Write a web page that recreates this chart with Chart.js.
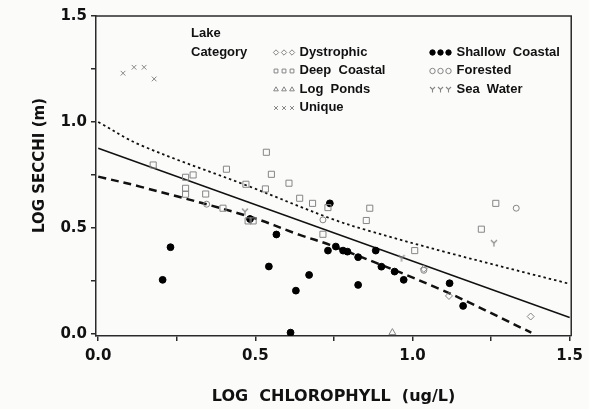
<!DOCTYPE html>
<html>
<head>
<meta charset="utf-8">
<script src="https://cdn.jsdelivr.net/npm/chart.js@4.4.1/dist/chart.umd.min.js"></script>
<style>
  html, body { margin: 0; padding: 0; background: #fbfcfa; }
  canvas { display: block; }
</style>
</head>
<body>
<canvas id="c" width="589" height="409"></canvas>
<script>
// ---------- data ----------
const xTitle = 'LOG  CHLOROPHYLL  (ug/L)';
const yTitle = 'LOG SECCHI (m)';
const xTickValues = [0, 0.25, 0.5, 0.75, 1.0, 1.25, 1.5];
const yTickValues = [0, 0.25, 0.5, 0.75, 1.0, 1.25, 1.5];
const legendTitle = ['Lake', 'Category'];

const dystrophicX = [1.036, 1.116, 1.376];
const dystrophicY = [0.307, 0.179, 0.082];

const deepCoastalX = [0.175, 0.278, 0.302, 0.408, 0.278, 0.278, 0.342, 0.397, 0.470, 0.535, 0.551, 0.532, 0.607, 0.641, 0.682, 0.731, 0.715, 0.477, 0.493, 0.864, 0.853, 1.007, 1.219, 1.265];
const deepCoastalY = [0.797, 0.739, 0.750, 0.777, 0.687, 0.659, 0.660, 0.593, 0.706, 0.857, 0.753, 0.684, 0.711, 0.640, 0.616, 0.596, 0.470, 0.533, 0.533, 0.593, 0.535, 0.393, 0.494, 0.616];

const logPondsX = [0.936];
const logPondsY = [0.006];

const uniqueX = [0.079, 0.114, 0.146, 0.178];
const uniqueY = [1.230, 1.258, 1.258, 1.203];

const shallowCoastalX = [0.205, 0.230, 0.483, 0.543, 0.567, 0.612, 0.629, 0.671, 0.737, 0.731, 0.756, 0.779, 0.793, 0.827, 0.827, 0.883, 0.901, 0.943, 0.972, 1.118, 1.161];
const shallowCoastalY = [0.255, 0.409, 0.542, 0.318, 0.469, 0.006, 0.204, 0.278, 0.616, 0.393, 0.412, 0.393, 0.388, 0.362, 0.231, 0.393, 0.317, 0.294, 0.255, 0.239, 0.132];

const forestedX = [0.345, 0.715, 1.330, 1.036];
const forestedY = [0.612, 0.538, 0.593, 0.300];

const seaWaterX = [0.467, 0.965, 1.259];
const seaWaterY = [0.577, 0.357, 0.428];

// fitted line and the two bands
const fitX = [0.0, 1.5];
const fitY = [0.876, 0.077];
const upperX = [0.0, 0.133, 0.482, 0.737, 0.853, 1.118, 1.5];
const upperY = [1.000, 0.892, 0.695, 0.546, 0.490, 0.381, 0.236];
const lowerX = [0.0, 0.133, 0.482, 0.641, 0.737, 1.086, 1.378];
const lowerY = [0.742, 0.695, 0.553, 0.467, 0.420, 0.212, 0.006];

// ---------- helpers ----------
const pts = (xs, ys) => xs.map((x, i) => ({ x: x, y: ys[i] }));
function makeY(size, lw) {
  const c = document.createElement('canvas');
  c.width = size; c.height = size;
  const g = c.getContext('2d');
  g.strokeStyle = '#858585'; g.lineWidth = lw;
  const m = size / 2;
  g.beginPath();
  g.moveTo(1, 1); g.lineTo(m, m); g.lineTo(size - 1, 1);
  g.moveTo(m, m); g.lineTo(m, size - 0.5);
  g.stroke();
  return c;
}
const yBig = makeY(8, 1.2);
const ySmall = makeY(7, 1.1);

const GRAY = '#858585';
const AX = '#2a2a2a';
const tickFont = { family: '"DejaVu Sans", sans-serif', size: 15, weight: 'bold' };

function mk(label, xs, ys, style, radius, filled, extra) {
  return Object.assign({
    type: 'scatter', label: label, data: pts(xs, ys),
    pointStyle: style, pointRadius: radius, pointHoverRadius: radius,
    borderColor: filled ? '#000' : GRAY,
    backgroundColor: filled ? '#000' : 'rgba(0,0,0,0)',
    pointBorderWidth: 1, borderWidth: 1, order: 1
  }, extra || {});
}
function ln(label, xs, ys, dash, width, tension) {
  return {
    type: 'line', label: label, data: pts(xs, ys),
    borderColor: '#111', borderWidth: width, borderDash: dash,
    pointRadius: 0, tension: tension, fill: false, order: 5,
    borderCapStyle: 'butt'
  };
}

const datasets = [
  mk('Dystrophic', dystrophicX, dystrophicY, 'rectRot', 3.5, false),
  mk('Deep  Coastal', deepCoastalX, deepCoastalY, 'rect', 4.3, false),
  mk('Log  Ponds', logPondsX, logPondsY, 'triangle', 4, false),
  mk('Unique', uniqueX, uniqueY, 'crossRot', 3.3, false),
  mk('Shallow  Coastal', shallowCoastalX, shallowCoastalY, 'circle', 3.4, true),
  mk('Forested', forestedX, forestedY, 'circle', 3, false),
  mk('Sea  Water', seaWaterX, seaWaterY, yBig, 4, false),
  ln('fit', fitX, fitY, [], 1.5, 0),
  ln('upper', upperX, upperY, [2.5, 3], 1.8, 0.35),
  ln('lower', lowerX, lowerY, [8, 5], 2.5, 0.35)
];

// legend slots (index into datasets, x of first symbol, text x, y)
const legendSlots = [
  [0, 276, 299.5, 52], [1, 276, 299.5, 70.5], [2, 276, 299.5, 89], [3, 276, 299.5, 107.5],
  [4, 432.5, 456.5, 52], [5, 432.5, 456.5, 70.5], [6, 432.5, 456.5, 89]
];

const bgPlugin = {
  id: 'bg',
  beforeDraw(chart) {
    const ctx = chart.ctx;
    ctx.save();
    ctx.fillStyle = '#fbfcfa';
    ctx.fillRect(0, 0, chart.width, chart.height);
    ctx.restore();
  }
};

const framePlugin = {
  id: 'frame',
  afterDraw(chart) {
    const a = chart.chartArea, ctx = chart.ctx;
    ctx.save();
    ctx.strokeStyle = AX; ctx.lineWidth = 1.5;
    ctx.beginPath();
    ctx.moveTo(a.left, a.top); ctx.lineTo(a.right, a.top); ctx.lineTo(a.right, a.bottom);
    ctx.stroke();
    ctx.restore();
  }
};

const legendPlugin = {
  id: 'catLegend',
  afterDatasetsDraw(chart) {
    const ctx = chart.ctx;
    ctx.save();
    ctx.font = 'bold 13px "Liberation Sans", Arial, sans-serif';
    ctx.fillStyle = '#111';
    ctx.textBaseline = 'middle';
    ctx.textAlign = 'left';
    ctx.fillText(legendTitle[0], 191, 33);
    ctx.fillText(legendTitle[1], 191, 52);
    legendSlots.forEach(s => {
      const ds = chart.data.datasets[s[0]];
      for (let k = 0; k < 3; k++) {
        const cx = s[1] + k * 8, cy = s[3] + 0.5;
        ctx.save();
        ctx.strokeStyle = ds.borderColor;
        ctx.fillStyle = ds.backgroundColor;
        ctx.lineWidth = 1;
        const st = ds.pointStyle === yBig ? ySmall : ds.pointStyle;
        Chart.helpers.drawPoint(ctx, { pointStyle: st, radius: 2.7, borderWidth: 1, rotation: 0 }, cx, cy);
        ctx.restore();
      }
      ctx.fillStyle = '#111';
      ctx.fillText(ds.label, s[2], s[3]);
    });
    ctx.restore();
  }
};

new Chart(document.getElementById('c'), {
  type: 'scatter',
  data: { datasets: datasets },
  plugins: [bgPlugin, framePlugin, legendPlugin],
  options: {
    responsive: false,
    animation: false,
    devicePixelRatio: 1,
    layout: { padding: { top: 16, right: 17, left: 0, bottom: 0 } },
    plugins: { legend: { display: false }, tooltip: { enabled: false } },
    scales: {
      x: {
        type: 'linear', min: -0.007, max: 1.505,
        afterFit(s) { s.height = 73; },
        afterBuildTicks(s) { s.ticks = xTickValues.map(v => ({ value: v })); },
        ticks: {
          font: tickFont, color: '#111', padding: 6, maxRotation: 0,
          callback: v => (Math.abs(v * 2 - Math.round(v * 2)) < 1e-6 ? v.toFixed(1) : '')
        },
        grid: { drawOnChartArea: false, drawTicks: true, tickLength: 5, color: AX, lineWidth: 1.5 },
        border: { display: true, color: AX, width: 1.5 },
        title: { display: true, text: xTitle, color: '#111', font: { family: '"DejaVu Sans", sans-serif', size: 16, weight: 'bold' }, padding: { top: 0, bottom: 3 } }
      },
      y: {
        type: 'linear', min: -0.01, max: 1.5,
        afterFit(s) { s.width = 96; },
        afterBuildTicks(s) { s.ticks = yTickValues.map(v => ({ value: v })); },
        ticks: {
          font: tickFont, color: '#111', padding: 4,
          callback: v => (Math.abs(v * 2 - Math.round(v * 2)) < 1e-6 ? v.toFixed(1) : '')
        },
        grid: { drawOnChartArea: false, drawTicks: true, tickLength: 5, color: AX, lineWidth: 1.5 },
        border: { display: true, color: AX, width: 1.5 },
        title: { display: true, text: '    ' + yTitle, color: '#111', font: { family: '"DejaVu Sans", sans-serif', size: 15, weight: 'bold' }, padding: { top: 31, bottom: 0 } }
      }
    }
  }
});
</script>
</body>
</html>
